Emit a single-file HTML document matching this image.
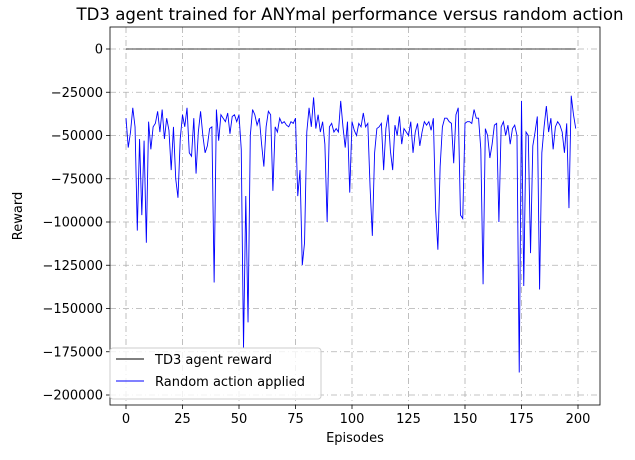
<!DOCTYPE html>
<html><head><meta charset="utf-8"><style>
body{margin:0;background:#fff;}
svg text{font-family:"DejaVu Sans","Liberation Sans",sans-serif;}
</style></head><body>
<svg id="chart" width="635" height="455" xmlns="http://www.w3.org/2000/svg"></svg>
<script>
const episodes = Array.from({length:200},(_,i)=>i);
const td3Reward = Array.from({length:200},()=>0);
const randomReward = [
-40,-57,-48,-34,-45,-105,-52,-96,-53,-112,
-42,-58,-45,-43,-36,-48,-35,-52,-40,-47,
-70,-45,-75,-86,-52,-38,-45,-34,-60,-62,
-40,-72,-48,-36,-50,-60,-56,-46,-45,-135,
-35,-53,-38,-40,-42,-37,-49,-39,-38,-42,
-38,-58,-173,-85,-158,-50,-35,-38,-44,-40,
-55,-68,-45,-36,-38,-82,-45,-48,-40,-43,
-42,-44,-45,-42,-43,-40,-85,-70,-125,-112,
-48,-34,-45,-28,-46,-38,-48,-42,-55,-100,
-45,-43,-48,-46,-48,-30,-45,-57,-42,-83,
-42,-47,-50,-43,-45,-37,-45,-43,-80,-108,
-60,-46,-45,-43,-70,-46,-38,-59,-70,-44,
-50,-39,-55,-46,-48,-50,-42,-60,-48,-43,
-56,-48,-42,-44,-42,-47,-40,-93,-116,-68,
-45,-40,-40,-42,-43,-66,-38,-34,-96,-98,
-43,-42,-42,-43,-35,-40,-40,-58,-136,-46,
-50,-63,-55,-44,-43,-100,-45,-42,-50,-44,
-55,-46,-44,-50,-187,-30,-137,-48,-50,-118,
-56,-48,-39,-139,-60,-45,-33,-48,-40,-58,
-45,-42,-44,-48,-60,-43,-92,-27,-38,-46
];
const xTicks=[0,25,50,75,100,125,150,175,200];
const yTicks=[0,-25000,-50000,-75000,-100000,-125000,-150000,-175000,-200000];
const NS="http://www.w3.org/2000/svg";
const svg=document.getElementById('chart');
const L=110,R=600,T=27,B=405;
const xS=v=>126+(v-0)*(578-126)/200;
const yS=v=>49+(0-v)*(395-49)/200000;
function mk(t,a){const e=document.createElementNS(NS,t);for(const k in a)e.setAttribute(k,a[k]);svg.appendChild(e);return e;}
const title=mk('text',{x:350,y:20,'text-anchor':'middle','font-size':16.6});title.textContent='TD3 agent trained for ANYmal performance versus random action';


xTicks.forEach(t=>{const x=xS(t);
 const g=mk('line',{x1:x,x2:x,y1:T,y2:B,stroke:'#b0b0b0','stroke-dasharray':'6,3,1,3','stroke-width':0.8});
 
 
 mk('line',{x1:x,x2:x,y1:B,y2:B+4,stroke:'#000','stroke-width':0.8});
 const tx=mk('text',{x:x,y:B+18,'text-anchor':'middle','font-size':13});tx.textContent=t;
 
 
});
yTicks.forEach(t=>{const y=yS(t);
 const g=mk('line',{x1:L,x2:R,y1:y,y2:y,stroke:'#b0b0b0','stroke-dasharray':'6,3,1,3','stroke-width':0.8});
 
 
 mk('line',{x1:L-4,x2:L,y1:y,y2:y,stroke:'#000','stroke-width':0.8});
 const tx=mk('text',{x:L-7,y:y+4.5,'text-anchor':'end','font-size':13});tx.textContent=t===0?'0':'\u2212'+Math.abs(t);
 
 
});
const td=mk('polyline',{points:episodes.map(i=>xS(i)+','+yS(td3Reward[i]*1000)).join(' '),fill:'none',stroke:'#000','stroke-width':0.8});


const rl=mk('polyline',{points:episodes.map(i=>xS(i)+','+yS(randomReward[i]*1000)).join(' '),fill:'none',stroke:'#0000ff','stroke-width':0.9});


const frame=mk('rect',{x:L,y:T,width:R-L,height:B-T,fill:'none',stroke:'#000','stroke-width':0.8});


const xl=mk('text',{x:355,y:442,'text-anchor':'middle','font-size':13});xl.textContent='Episodes';


const yl=mk('text',{x:22,y:216,'text-anchor':'middle','font-size':13,transform:'rotate(-90 22 216)'});yl.textContent='Reward';


const lg=mk('rect',{x:110,y:348,width:211,height:51,rx:3,fill:'#fff','fill-opacity':0.8,stroke:'#ccc'});


[['#000','TD3 agent reward',359],['#0000ff','Random action applied',381]].forEach(([c,t,y],i)=>{
 mk('line',{x1:116,x2:144,y1:y,y2:y,stroke:c,'stroke-width':1});
 const tx=mk('text',{x:155,y:y+5,'font-size':13});tx.textContent=t;
 
 
});
</script>
</body></html>
